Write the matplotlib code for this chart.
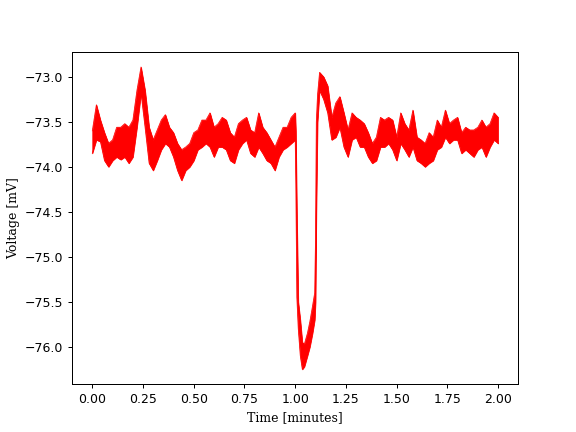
import numpy as np
import matplotlib
matplotlib.use('Agg')
import matplotlib.pyplot as plt

# time [minutes] and the lower / upper edge of the noisy trace [mV]
t = [0.00, 0.02, 0.04, 0.06, 0.08, 0.10, 0.12, 0.14, 0.16, 0.18,
     0.20, 0.22, 0.24, 0.26, 0.28, 0.30, 0.32, 0.34, 0.36, 0.38,
     0.40, 0.42, 0.44, 0.46, 0.48, 0.50, 0.52, 0.54, 0.56, 0.58,
     0.60, 0.62, 0.64, 0.66, 0.68, 0.70, 0.72, 0.74, 0.76, 0.78,
     0.80, 0.82, 0.84, 0.86, 0.88, 0.90, 0.92, 0.94, 0.96, 0.98,
     1.000, 1.003, 1.008, 1.015, 1.025, 1.035, 1.045, 1.060, 1.072, 1.085,
     1.096, 1.100, 1.104, 1.110, 1.12, 1.14, 1.16, 1.18,
     1.20, 1.22, 1.24, 1.26, 1.28, 1.30, 1.32, 1.34, 1.36, 1.38,
     1.40, 1.42, 1.44, 1.46, 1.48, 1.50, 1.52, 1.54, 1.56, 1.58,
     1.60, 1.62, 1.64, 1.66, 1.68, 1.70, 1.72, 1.74, 1.76, 1.78,
     1.80, 1.82, 1.84, 1.86, 1.88, 1.90, 1.92, 1.94, 1.96, 1.98, 2.00]

v_low = [-73.85, -73.70, -73.72, -73.93, -74.00, -73.93, -73.89, -73.92, -73.89, -73.96,
         -73.89, -73.56, -73.18, -73.56, -73.96, -74.04, -73.93, -73.81, -73.74, -73.78,
         -73.89, -74.04, -74.15, -74.04, -74.00, -73.93, -73.81, -73.78, -73.74, -73.78,
         -73.89, -73.78, -73.78, -73.81, -73.93, -73.96, -73.81, -73.74, -73.70, -73.85,
         -73.89, -73.78, -73.85, -73.93, -73.96, -74.04, -73.89, -73.81, -73.78, -73.74,
         -73.70, -74.20, -75.45, -75.80, -76.10, -76.25, -76.22, -76.10, -76.00, -75.85,
         -75.70, -75.50, -74.50, -73.50, -73.15, -73.25, -73.40, -73.70,
         -73.67, -73.56, -73.78, -73.89, -73.70, -73.67, -73.78, -73.78, -73.89, -73.96,
         -73.93, -73.78, -73.78, -73.74, -73.81, -73.93, -73.74, -73.81, -73.89, -73.78,
         -73.93, -73.96, -74.00, -73.96, -73.93, -73.81, -73.78, -73.67, -73.74, -73.70,
         -73.70, -73.85, -73.81, -73.85, -73.89, -73.81, -73.78, -73.89, -73.78, -73.70, -73.74]

v_high = [-73.60, -73.31, -73.48, -73.62, -73.74, -73.70, -73.56, -73.56, -73.52, -73.56,
          -73.48, -73.15, -72.89, -73.15, -73.56, -73.70, -73.59, -73.48, -73.42, -73.56,
          -73.62, -73.74, -73.81, -73.78, -73.74, -73.62, -73.59, -73.48, -73.48, -73.40,
          -73.56, -73.52, -73.45, -73.48, -73.62, -73.67, -73.52, -73.48, -73.45, -73.59,
          -73.62, -73.40, -73.56, -73.62, -73.70, -73.78, -73.67, -73.56, -73.56, -73.45,
          -73.40, -73.60, -74.50, -75.50, -75.70, -75.95, -75.97, -75.85, -75.72, -75.55,
          -75.40, -74.80, -73.50, -73.20, -72.95, -73.00, -73.10, -73.45,
          -73.29, -73.22, -73.40, -73.59, -73.40, -73.45, -73.48, -73.52, -73.62, -73.74,
          -73.67, -73.45, -73.48, -73.45, -73.48, -73.67, -73.40, -73.52, -73.59, -73.37,
          -73.67, -73.70, -73.74, -73.62, -73.67, -73.48, -73.56, -73.37, -73.52, -73.48,
          -73.45, -73.62, -73.56, -73.59, -73.59, -73.56, -73.48, -73.56, -73.52, -73.40, -73.45]

fig, ax = plt.subplots(figsize=(6.4, 4.8), dpi=90)
ax.fill_between(t, v_low, v_high, color='red', linewidth=0.6)
ax.plot(t, v_low, color='red', linewidth=0.6)
ax.plot(t, v_high, color='red', linewidth=0.6)

ax.set_xlabel('Time [minutes]', family='DejaVu Serif')
ax.set_ylabel('Voltage [mV]', family='DejaVu Serif')

plt.savefig('out.png')
